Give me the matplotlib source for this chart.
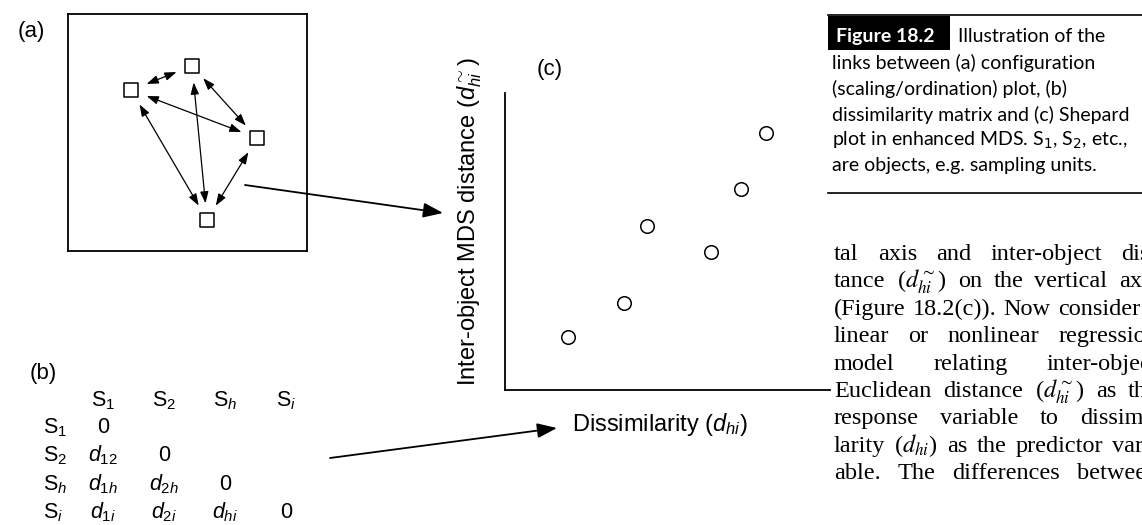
import matplotlib
matplotlib.use("Agg")
import matplotlib.pyplot as plt
from matplotlib.patches import Rectangle

plt.rcParams['font.family'] = ['Liberation Sans', 'DejaVu Sans']
plt.rcParams['mathtext.fontset'] = 'custom'
plt.rcParams['mathtext.rm'] = 'Liberation Sans'
plt.rcParams['mathtext.it'] = 'Liberation Sans:italic'
plt.rcParams['mathtext.bf'] = 'Liberation Sans:bold'

W, H, DPI = 1142, 525, 100

# ---------------- data ----------------
# (a) configuration (ordination) coordinates of the four objects
config_x = [2.64, 5.19, 7.91, 5.82]
config_y = [6.79, 7.81, 4.77, 1.31]
# object pairs joined by inter-object distances
link_from = [0, 1, 0, 0, 1, 2]
link_to = [1, 2, 2, 3, 3, 3]

# (b) dissimilarity matrix
object_labels = [r"$\mathrm{S}_1$", r"$\mathrm{S}_2$", r"$\mathrm{S}_h$", r"$\mathrm{S}_i$"]
matrix_cells = [
    ["0"],
    [r"$d_{12}$", "0"],
    [r"$d_{1h}$", r"$d_{2h}$", "0"],
    [r"$d_{1i}$", r"$d_{2i}$", r"$d_{hi}$", "0"],
]

# (c) Shepard plot
dissimilarity = [1.94, 3.66, 4.37, 6.34, 7.26, 8.03]
mds_distance = [1.78, 2.93, 5.52, 4.65, 6.77, 8.65]
x_label = r"Dissimilarity ($d_{hi}$)"
y_label = r"Inter-object MDS distance ($d^{\sim}_{hi}$)"

# caption and running text
caption_tag = "Figure 18.2"
caption_lines = [
    "Illustration of the",
    "links between (a) configuration",
    "(scaling/ordination) plot, (b)",
    "dissimilarity matrix and (c) Shepard",
    r"plot in enhanced MDS. S$_1$, S$_2$, etc.,",
    "are objects, e.g. sampling units.",
]
body_lines = [
    "tal axis and inter-object dis-",
    r"tance ($d^{\sim}_{hi}$) on the vertical axis",
    "(Figure 18.2(c)). Now consider a",
    "linear or nonlinear regression",
    "model relating inter-object",
    r"Euclidean distance ($d^{\sim}_{hi}$) as the",
    "response variable to dissimi-",
    r"larity ($d_{hi}$) as the predictor vari-",
    "able. The differences between",
]

# ---------------- figure ----------------
fig = plt.figure(figsize=(W / DPI, H / DPI), dpi=DPI)
fig.patch.set_facecolor('white')


def fbox(x0, y0, x1, y1):
    return [x0 / W, 1 - y1 / H, (x1 - x0) / W, (y1 - y0) / H]


# panel (a)
ax_a = fig.add_axes(fbox(68, 14, 307, 251))
ax_a.set_xlim(0, 10)
ax_a.set_ylim(0, 10)
ax_a.set_xticks([])
ax_a.set_yticks([])
for s in ax_a.spines.values():
    s.set_linewidth(1.3)
ax_a.scatter(config_x, config_y, marker='s', s=110, facecolor='white',
             edgecolor='black', linewidth=1.1, zorder=3)
for i, j in zip(link_from, link_to):
    ax_a.annotate('', xy=(config_x[j], config_y[j]), xytext=(config_x[i], config_y[i]),
                  arrowprops=dict(arrowstyle='<|-|>,head_length=0.7,head_width=0.25',
                                  color='black', lw=0.9, shrinkA=12, shrinkB=12,
                                  mutation_scale=10))

# panel (c)
ax_c = fig.add_axes(fbox(505, 93, 830, 390))
ax_c.patch.set_visible(False)
ax_c.set_xlim(0, 10)
ax_c.set_ylim(0, 10)
ax_c.set_xticks([])
ax_c.set_yticks([])
ax_c.spines[['top', 'right']].set_visible(False)
ax_c.spines[['left', 'bottom']].set_linewidth(1.3)
ax_c.scatter(dissimilarity, mds_distance, s=95, facecolor='white', edgecolor='black',
             linewidth=1.1, clip_on=False, zorder=3)
ax_c.set_ylabel(y_label, fontsize=17, va='center')
ax_c.yaxis.set_label_coords((470 - 505) / 325, (390 - 222) / 297)
ax_c.set_xlabel(x_label, fontsize=17, ha='left', va='center')
ax_c.xaxis.set_label_coords((572 - 505) / 325, -(425 - 390) / 297)

# overlay in pixel coordinates
ov = fig.add_axes([0, 0, 1, 1], zorder=5)
ov.set_xlim(0, W)
ov.set_ylim(H, 0)
ov.axis('off')
ov.patch.set_visible(False)

ov.text(18, 32, "(a)", fontsize=16, ha='left', va='center')
ov.text(30, 374, "(b)", fontsize=16, ha='left', va='center')
ov.text(537, 69, "(c)", fontsize=16, ha='left', va='center')

# matrix
MS = 15.5
hdr_base = 406
row_bases = [433, 461, 490, 518]
col_x = [103, 164, 225, 286]
for j, lab in enumerate(object_labels):
    ov.text(col_x[j], hdr_base, lab, ha='center', va='baseline', fontsize=MS)
for i, (lab, cells) in enumerate(zip(object_labels, matrix_cells)):
    ov.text(43, row_bases[i], lab, ha='left', va='baseline', fontsize=MS)
    for j, c in enumerate(cells):
        ov.text(col_x[j], row_bases[i], c, ha='center', va='baseline', fontsize=MS)

# linking arrows
big = dict(arrowstyle='-|>,head_length=1.2,head_width=0.45', lw=1.3, color='black',
           mutation_scale=10, shrinkA=0, shrinkB=0)
ov.annotate('', xy=(443, 213), xytext=(245, 185), arrowprops=big)
ov.annotate('', xy=(557, 428), xytext=(330, 458), arrowprops=big)

# caption box
ov.plot([828, W], [15, 15], color='black', lw=1.2)
ov.plot([828, W], [193, 193], color='black', lw=1.2)
ov.add_patch(Rectangle((828, 16), 122, 34, facecolor='black', edgecolor='none'))
CF = ['Lato', 'DejaVu Sans']
CS = 14
cap_bases = [42, 69, 95, 121, 146, 171]
ov.text(836, cap_bases[0], caption_tag, color='white', fontweight='bold', family=CF,
        fontsize=CS, va='baseline')
ov.text(958, cap_bases[0], caption_lines[0], family=CF, fontsize=CS, va='baseline')
for k in range(1, len(caption_lines)):
    ov.text(832, cap_bases[k], caption_lines[k], family=CF, fontsize=CS, va='baseline',
            math_fontfamily='dejavusans')

# justified body text
renderer = fig.canvas.get_renderer()
BF = ['Liberation Serif', 'DejaVu Serif']
BS = 17.5
x_left, x_right = 834, 1158
for k, line in enumerate(body_lines):
    yb = 260 + 27.4 * k
    words = line.split(' ')
    ts = [ov.text(0, yb, w_, family=BF, fontsize=BS, va='baseline', ha='left',
                  math_fontfamily='stix') for w_ in words]
    widths = [t.get_window_extent(renderer).width for t in ts]
    gap = (x_right - x_left - sum(widths)) / max(len(words) - 1, 1)
    x = x_left
    for t, wd in zip(ts, widths):
        t.set_x(x)
        x += wd + gap

fig.savefig('out.png', dpi=DPI, facecolor='white')
